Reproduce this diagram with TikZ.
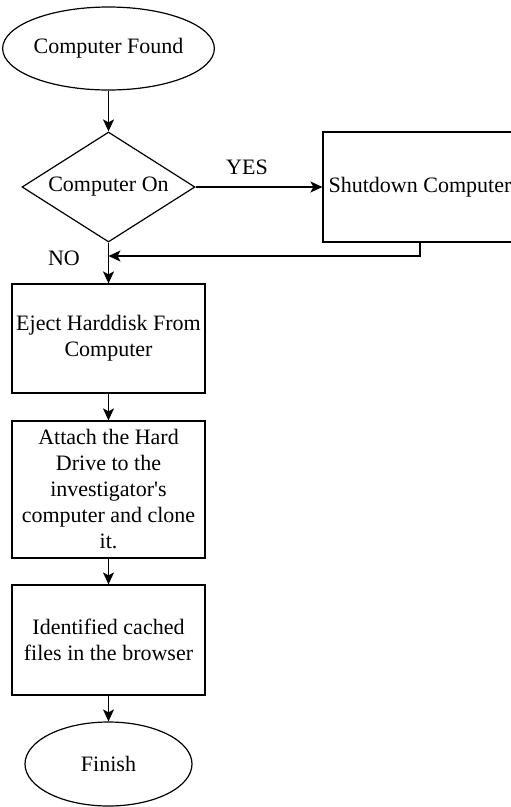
\documentclass[tikz,border=0pt]{standalone}
\usepackage{fontspec}
\setmainfont{Liberation Serif}
\usetikzlibrary{shapes.geometric,arrows.meta}
\begin{document}
\begin{tikzpicture}[x=1pt,y=-1pt,
  every node/.style={font=\fontsize{22}{26}\selectfont},
  base/.style={draw=black,line width=1.2pt,inner sep=0pt},
  term/.style={base,ellipse,minimum width=167pt,minimum height=83pt},
  dia/.style={base,diamond,minimum width=173pt,minimum height=110pt},
  proc/.style={base,rectangle,minimum width=193pt,align=center},
  conn/.style={line width=1.2pt,-{Stealth[length=12pt,width=11pt,inset=3pt]}},
  lbl/.style={inner sep=0pt}]
\useasboundingbox (0,0) rectangle (511,807);
\node[term] (start) at (108.5,48.5) {Computer Found};
\node[dia] (dec) at (108.5,187) {};
\node at (dec.center) {Computer On};
\node[proc,minimum width=194pt,minimum height=110pt] (shut) at (420,187) {Shutdown Computer};
\node[proc,minimum height=109pt] (eject) at (108.5,338.5) {Eject Harddisk From\\Computer};
\node[proc,minimum height=137pt] (attach) at (108.5,489.5) {Attach the Hard\\Drive to the\\investigator\textquotesingle s\\computer and clone\\it.};
\node[proc,minimum height=110pt] (ident) at (108.5,640) {Identified cached\\files in the browser};
\node[term,minimum height=84pt] (finish) at (108.5,764) {Finish};
\node[lbl] (yes) at (247,167) {YES};
\node[lbl] (no) at (64,258) {NO};
\coordinate (join) at (108.5,256);
\coordinate (bend) at (420,256);
\draw[conn] (start) -- (dec);
\draw[conn] (dec.east) -- (shut.west);
\draw[conn] (shut.south) -- (bend) -- (join);
\draw[conn] (dec.south) -- (eject.north);
\draw[conn] (eject) -- (attach);
\draw[conn] (attach) -- (ident);
\draw[conn] (ident) -- (finish);
\end{tikzpicture}
\end{document}
